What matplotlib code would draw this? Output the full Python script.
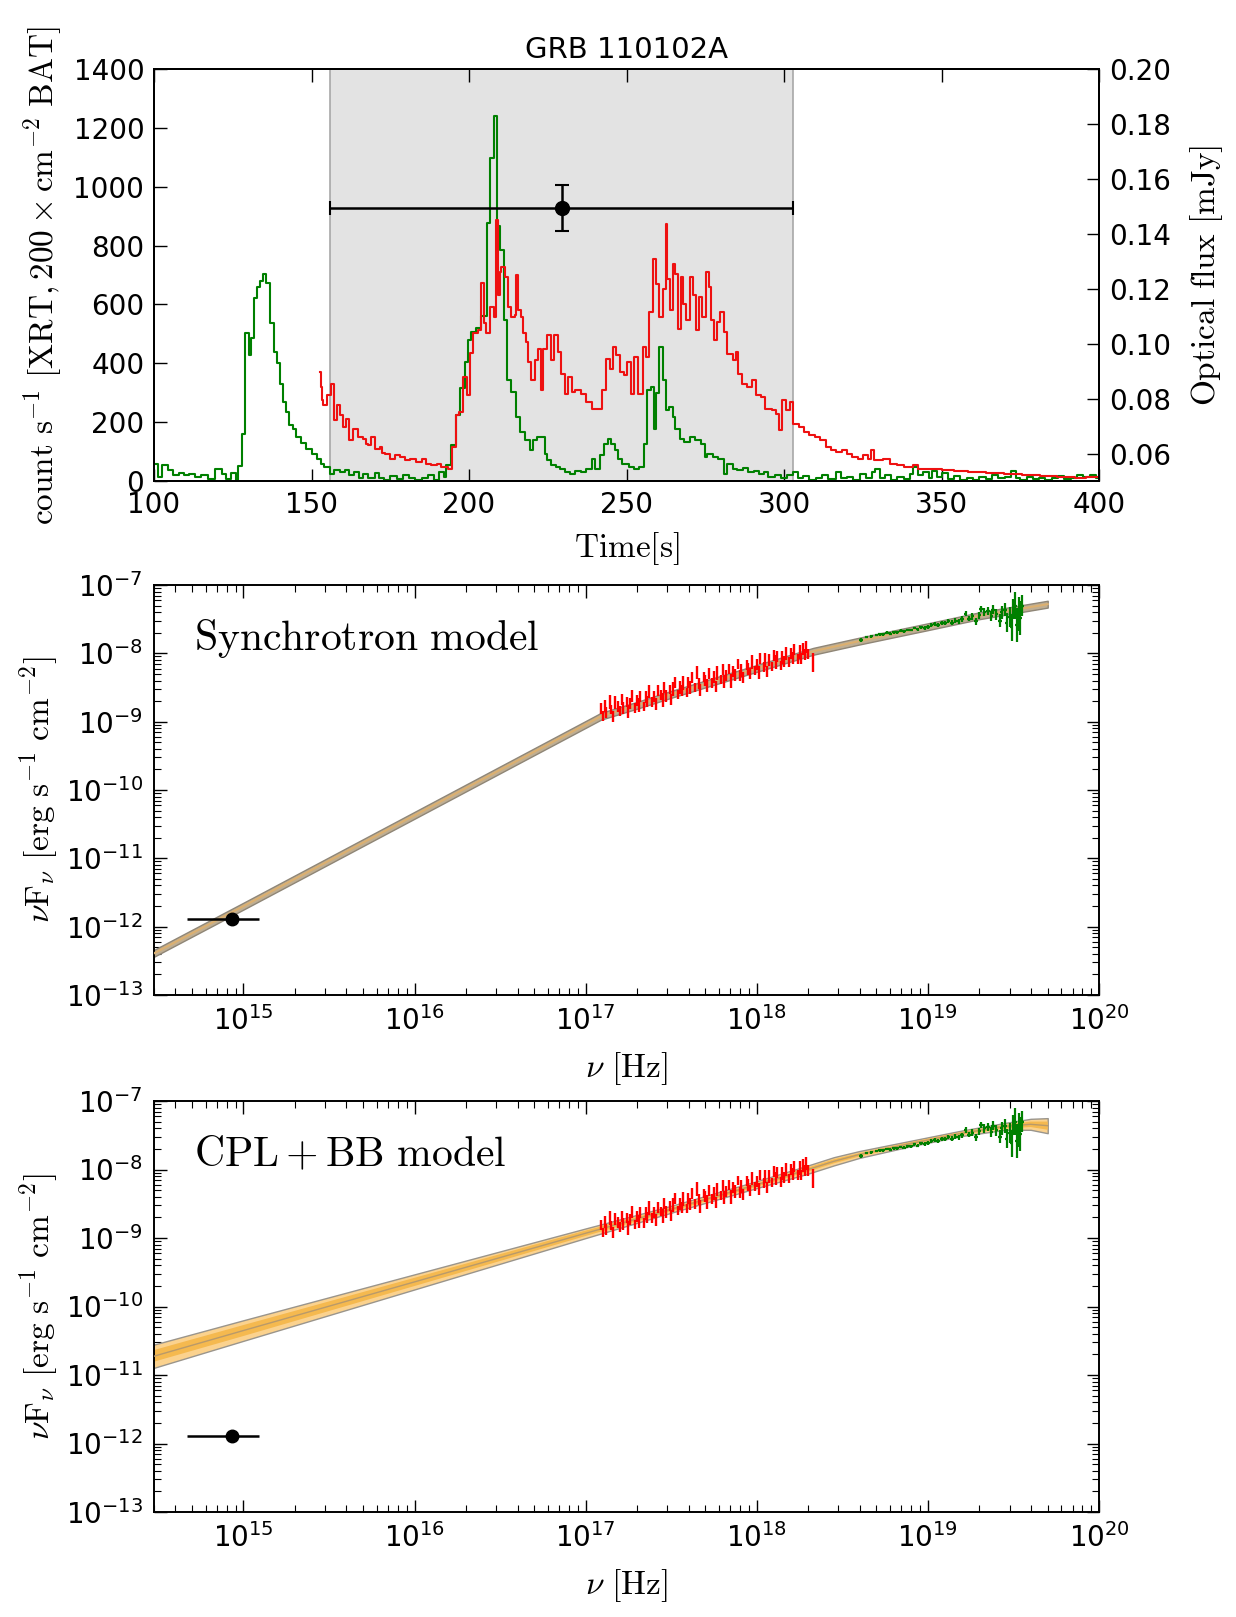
import numpy as np
import matplotlib
matplotlib.use('Agg')
import matplotlib.pyplot as plt
from matplotlib.ticker import LogLocator, NullFormatter

plt.rcParams['mathtext.fontset'] = 'cm'
plt.rcParams['font.family'] = 'DejaVu Sans'
plt.rcParams['axes.linewidth'] = 1.4
plt.rcParams['axes.unicode_minus'] = False

# ---------------- light curve (top panel) ----------------
# BAT (green), left bin edge [s] and rate
bat_t = [100, 101.4, 102.4, 104.5, 106, 108, 109.5, 111, 113, 115, 117, 119.3, 121.5, 123, 124.5, 126,
         126.7, 127.9, 129, 130, 130.8, 131.8, 132.8, 133.8, 134.7, 135.7, 136.8, 138, 138.9, 140,
         141, 142, 143, 144.2, 145.2, 146.8, 148.4, 150.2, 151.6, 153, 154, 155.8, 157, 159, 160.5,
         162, 163.5, 165, 166.5, 168, 170, 171.5, 173, 175, 177, 179, 181, 183, 185, 187, 189, 190.5,
         192, 192.8, 194.4, 196, 197, 198.6, 199.7, 200.7, 202.3, 203.9, 205.7, 206.8, 207.8, 208.9,
         209.9, 211, 212, 213.4, 215, 216.3, 217.7, 219.2, 220.3, 221.5, 223, 224, 224.7, 226, 227.6,
         229, 230.4, 232, 233.8, 235.5, 237, 238.9, 240, 241.7, 243, 244, 245, 246.3, 247.4, 248.5,
         250.8, 252.5, 254, 255.7, 256.5, 257.8, 258.7, 259.5, 260.4, 261.6, 262.4, 263.5, 264.6,
         265.5, 266.9, 268.4, 270, 271.8, 273.5, 274.8, 275.7, 277.4, 279.1, 280.8, 282, 283.7, 285,
         287, 288.5, 290.5, 292, 293.5, 295, 297, 299, 301, 303, 304.5, 306, 308, 310, 312, 314,
         316.5, 318, 320, 322, 324, 326, 328, 329, 330.5, 332, 334, 336, 338, 340, 341, 342.5, 344,
         346, 347, 348.5, 350, 352, 354, 356, 358, 360, 362, 364, 366, 368, 370, 372, 373.5, 375,
         377, 379, 381, 383, 385, 387, 389, 391, 393, 395, 397, 399]
bat_rate = [59, 14, 53, 36, 20, 28, 20, 25, 15, 20, 8, 42, 25, 8, 28, 5,
            50, 161, 502, 428, 485, 621, 661, 680, 705, 673, 536, 440, 400, 330,
            269, 235, 190, 178, 150, 130, 110, 93, 76, 59, 48, 25, 36, 30, 36,
            20, 30, 12, 25, 10, 28, 12, 5, 18, 8, 22, 10, 3, 12, 20, 5, 30,
            15, 53, 122, 224, 315, 405, 480, 508, 520, 560, 877, 1099, 1241, 866,
            786, 548, 343, 303, 218, 167, 139, 105, 139, 150, 150, 93, 70, 55, 48,
            40, 30, 25, 35, 30, 40, 76, 40, 87, 127, 144, 127, 104, 76, 59,
            48, 40, 48, 127, 308, 320, 178, 300, 456, 342, 240, 252, 218,
            178, 144, 133, 150, 139, 127, 82, 93, 82, 76, 25, 59, 42, 36,
            45, 30, 35, 25, 30, 15, 22, 12, 20, 30, 10, 18, 5, 12, 20, 8,
            30, 10, 15, 5, 25, 12, 30, 40, 10, 20, 5, 15, 8, 25, 48, 20, 30,
            10, 35, 15, 28, 8, 18, 5, 12, 3, 15, 8, 20, 10, 15, 34, 10, 5,
            15, 8, 12, 4, 10, 18, 6, 12, 20, 15, 22, 12]

# XRT (red, x200), left bin edge [s] and rate
xrt_t = [152.6, 152.9, 153.2, 153.7, 154.8, 156.1, 157, 158, 159, 160, 161, 162, 163.2, 164.8, 166.4,
         167.2, 168, 169, 170, 171.7, 172.5, 173.3, 174.8, 176.4, 178, 179.6, 181.2, 183.3, 185,
         186.5, 188, 189.8, 191.2, 193.3, 194.7, 195.8, 196.8, 198.1, 199.2, 200.2, 201.3, 202.9,
         203.9, 204.6, 205.5, 206.6, 207.8, 208.5, 209.2, 209.7, 210.3, 211.3, 212.4, 213.4, 214.5,
         215, 215.5, 216.6, 217.1, 218.2, 218.7, 219.8, 220.8, 221.9, 222.9, 223.5, 224.7, 225.9,
         227, 228.1, 229.3, 230.4, 231.5, 232.7, 233.8, 235.5, 237.2, 238.9, 240.6, 242.3, 243.4,
         244.6, 245.7, 246.8, 248, 249.1, 250.2, 251.4, 252.5, 253.6, 255.1, 256.2, 257, 258.5,
         259.3, 260.4, 261.6, 262.4, 263, 263.8, 264.6, 265.5, 266.4, 267.2, 268, 268.9, 270.1,
         271.2, 272.1, 273.1, 274, 275.2, 276.3, 276.9, 277.8, 278.6, 279.7, 280.8, 282, 283.7,
         284.6, 285.4, 286.5, 288.2, 289.9, 291, 292.7, 293.9, 296.1, 297.3, 298.4, 299.5, 300.7,
         301.8, 302.9, 304.6, 306.3, 308, 309.8, 311.5, 313.2, 314.9, 316.6, 318.3, 320, 321.7,
         323.4, 325, 326.8, 327.7, 328.5, 331.3, 333.6, 335.8, 338.1, 341, 342.6, 347.2, 350, 354,
         358.5, 364.2, 369.8, 375.5, 381.2, 386.8, 392.5, 396]
xrt_rate = [370, 320, 275, 258, 292, 331, 207, 258, 224, 184, 212, 138, 178, 150, 144,
            125, 121, 150, 110, 116, 95, 93, 76, 87, 82, 70, 76, 65, 76,
            59, 53, 59, 48, 42, 116, 224, 235, 354, 292, 434, 502, 513,
            672, 536, 502, 593, 558, 888, 632, 712, 729, 695, 593, 558, 564,
            700, 581, 558, 502, 473, 405, 343, 411, 450, 309, 450, 495, 411,
            495, 439, 365, 297, 354, 303, 308, 297, 269, 246, 246, 308, 416,
            382, 456, 428, 371, 359, 405, 297, 422, 297, 456, 422, 575, 756,
            671, 558, 654, 875, 688, 580, 739, 705, 518, 694, 603, 546, 694,
            631, 512, 626, 558, 711, 660, 546, 478, 541, 575, 507, 433, 410,
            439, 365, 331, 320, 342, 291, 286, 246, 240, 229, 172, 274, 240,
            269, 195, 184, 167, 155, 150, 138, 116, 104, 99, 104, 93, 82,
            76, 87, 76, 104, 70, 76, 59, 53, 48, 53, 42, 42, 39, 34,
            31, 27, 23, 19, 16, 14, 10, 14]

# optical point (time interval and flux)
opt_t = 229.5
opt_t_lo, opt_t_hi = 155.8, 302.9
opt_flux = 0.1495
opt_flux_err = 0.0083

# ---------------- SED (middle & bottom panels), log10 values ----------------
xrt_lognu = [17.09, 17.10, 17.11, 17.12, 17.14, 17.15, 17.16, 17.17, 17.19, 17.20,
             17.21, 17.22, 17.24, 17.25, 17.26, 17.27, 17.29, 17.30, 17.31, 17.32,
             17.34, 17.35, 17.36, 17.37, 17.39, 17.40, 17.41, 17.42, 17.44, 17.45,
             17.46, 17.47, 17.49, 17.50, 17.51, 17.52, 17.54, 17.55, 17.56, 17.57,
             17.59, 17.60, 17.61, 17.62, 17.64, 17.65, 17.66, 17.67, 17.69, 17.70,
             17.71, 17.72, 17.74, 17.75, 17.76, 17.77, 17.79, 17.80, 17.81, 17.82,
             17.84, 17.85, 17.86, 17.87, 17.89, 17.90, 17.91, 17.92, 17.94, 17.95,
             17.96, 17.97, 17.99, 18.00, 18.01, 18.02, 18.04, 18.05, 18.06, 18.07,
             18.09, 18.10, 18.11, 18.12, 18.14, 18.15, 18.16, 18.17, 18.19, 18.20,
             18.21, 18.22, 18.24, 18.25, 18.26, 18.27, 18.28, 18.29, 18.30, 18.33]
xrt_logf = [-8.81, -8.92, -8.77, -8.87, -8.71, -8.82, -8.92, -8.72, -8.78, -8.84,
            -8.68, -8.80, -8.71, -8.85, -8.73, -8.62, -8.80, -8.69, -8.76, -8.63,
            -8.78, -8.64, -8.70, -8.56, -8.71, -8.63, -8.74, -8.55, -8.61, -8.68,
            -8.50, -8.62, -8.53, -8.67, -8.52, -8.42, -8.60, -8.50, -8.55, -8.43,
            -8.57, -8.43, -8.50, -8.35, -8.50, -8.28, -8.44, -8.54, -8.35, -8.40,
            -8.47, -8.30, -8.43, -8.35, -8.48, -8.29, -8.38, -8.24, -8.41, -8.32,
            -8.23, -8.40, -8.26, -8.32, -8.16, -8.33, -8.25, -8.36, -8.17, -8.23,
            -8.30, -8.13, -8.25, -8.17, -8.28, -8.08, -8.20, -8.10, -8.26, -8.10,
            -8.19, -8.03, -8.13, -8.05, -8.18, -8.06, -8.12, -8.00, -8.13, -8.00,
            -8.07, -7.95, -8.08, -7.98, -8.08, -7.94, -8.02, -7.91, -8.01, -8.13]
xrt_logerr = [0.08, 0.07, 0.09, 0.08, 0.10, 0.07, 0.08, 0.09, 0.08, 0.07,
              0.08, 0.09, 0.07, 0.10, 0.08, 0.09, 0.07, 0.08, 0.10, 0.08,
              0.07, 0.09, 0.08, 0.10, 0.07, 0.08, 0.09, 0.08, 0.07, 0.10,
              0.08, 0.09, 0.07, 0.08, 0.10, 0.08, 0.07, 0.09, 0.08, 0.10,
              0.07, 0.08, 0.09, 0.08, 0.07, 0.10, 0.08, 0.09, 0.07, 0.08,
              0.10, 0.08, 0.07, 0.09, 0.08, 0.10, 0.07, 0.08, 0.09, 0.08,
              0.07, 0.10, 0.08, 0.09, 0.07, 0.08, 0.10, 0.08, 0.07, 0.09,
              0.08, 0.10, 0.07, 0.08, 0.09, 0.08, 0.07, 0.10, 0.08, 0.09,
              0.07, 0.08, 0.10, 0.08, 0.07, 0.09, 0.08, 0.10, 0.07, 0.08,
              0.09, 0.08, 0.07, 0.10, 0.08, 0.09, 0.08, 0.09, 0.08, 0.14]

bat_lognu = [18.61, 18.64, 18.67, 18.70, 18.72, 18.74, 18.76, 18.78, 18.80, 18.82,
             18.84, 18.86, 18.88, 18.90, 18.92, 18.94, 18.96, 18.98, 19.00, 19.02,
             19.04, 19.06, 19.08, 19.10, 19.12, 19.14, 19.16, 19.18, 19.20, 19.22,
             19.24, 19.26, 19.28, 19.30, 19.31, 19.33, 19.35, 19.37, 19.38, 19.40,
             19.42, 19.43, 19.45, 19.46, 19.48, 19.49, 19.50, 19.51, 19.52, 19.53,
             19.54, 19.55]
bat_logf = [-7.80, -7.76, -7.75, -7.73, -7.72, -7.72, -7.70, -7.71, -7.69, -7.69,
            -7.67, -7.68, -7.66, -7.66, -7.63, -7.65, -7.62, -7.63, -7.61, -7.58,
            -7.57, -7.58, -7.55, -7.56, -7.53, -7.55, -7.52, -7.53, -7.50, -7.42,
            -7.49, -7.46, -7.53, -7.44, -7.35, -7.40, -7.38, -7.45, -7.36, -7.43,
            -7.52, -7.40, -7.36, -7.55, -7.47, -7.62, -7.35, -7.30, -7.58, -7.42,
            -7.48, -7.30]
bat_logerr = [0.03, 0.02, 0.02, 0.02, 0.02, 0.02, 0.02, 0.02, 0.02, 0.02,
              0.02, 0.02, 0.02, 0.02, 0.02, 0.02, 0.02, 0.03, 0.03, 0.03,
              0.03, 0.03, 0.03, 0.03, 0.03, 0.04, 0.04, 0.04, 0.04, 0.04,
              0.04, 0.05, 0.05, 0.05, 0.05, 0.06, 0.06, 0.07, 0.07, 0.08,
              0.10, 0.09, 0.10, 0.14, 0.15, 0.20, 0.15, 0.20, 0.25, 0.25,
              0.25, 0.15]

# optical SED point
uv_nu, uv_nu_lo, uv_nu_hi = 8.6e14, 4.7e14, 1.24e15
uv_flux = 1.29e-12

# synchrotron model band
syn_lognu = [14.47, 15.0, 16.0, 17.0, 17.09, 17.3, 17.5, 17.75, 18.0, 18.33, 18.6, 19.0, 19.3, 19.7]
syn_mid = [-12.40, -11.70, -10.37, -9.04, -8.92, -8.76, -8.60, -8.41, -8.22, -7.97, -7.82, -7.61, -7.45, -7.28]
syn_lo = [-12.45, -11.75, -10.42, -9.09, -8.97, -8.81, -8.65, -8.46, -8.27, -8.02, -7.87, -7.66, -7.50, -7.33]
syn_hi = [-12.35, -11.65, -10.32, -8.99, -8.87, -8.71, -8.55, -8.36, -8.17, -7.92, -7.77, -7.56, -7.40, -7.23]

# CPL+BB model band
cpl_lognu = [14.47, 15.0, 16.0, 17.0, 17.5, 18.0, 18.3, 18.45, 18.6, 18.9, 19.2, 19.45, 19.6, 19.7]
cpl_mid = [-10.73, -10.35, -9.64, -8.93, -8.58, -8.22, -8.00, -7.88, -7.78, -7.62, -7.47, -7.37, -7.34, -7.36]
cpl_lo = [-10.90, -10.50, -9.75, -9.00, -8.63, -8.27, -8.06, -7.94, -7.83, -7.66, -7.51, -7.42, -7.42, -7.47]
cpl_hi = [-10.56, -10.20, -9.53, -8.86, -8.53, -8.17, -7.94, -7.82, -7.73, -7.58, -7.43, -7.32, -7.26, -7.25]
cpl_in_lo = [-10.81, -10.43, -9.70, -8.97, -8.61, -8.25, -8.03, -7.91, -7.81, -7.64, -7.49, -7.40, -7.38, -7.42]
cpl_in_hi = [-10.64, -10.27, -9.58, -8.89, -8.56, -8.20, -7.97, -7.85, -7.76, -7.60, -7.45, -7.35, -7.30, -7.30]


def ex(v):
    return 10 ** np.array(v, dtype=float)


fig = plt.figure(figsize=(12.36, 16.17), dpi=100)
TICK = 20
LAB = 24

# ---------- top panel ----------
ax = fig.add_axes([0.1246, 0.7025, 0.7646, 0.2548])
ax.axvspan(opt_t_lo, opt_t_hi, facecolor='#e3e3e3', edgecolor='#a8a8a8', lw=1.2, zorder=0)
ax.step(bat_t + [400], bat_rate + [bat_rate[-1]], where='post', color='g', lw=1.5)
ax.step(xrt_t + [400], xrt_rate + [xrt_rate[-1]], where='post', color='#ee1111', lw=1.5)
ax.set_xlim(100, 400)
ax.set_ylim(0, 1400)
ax.set_xticks(np.arange(100, 401, 50))
ax.set_yticks(np.arange(0, 1401, 200))
ax.tick_params(direction='in', length=9, width=1, labelsize=TICK, top=True, right=False, pad=7)
ax.set_title('GRB 110102A', fontsize=21, pad=8)
ax.set_xlabel(r'$\mathrm{Time[s]}$', fontsize=LAB)
ax.xaxis.set_label_coords(0.5, -0.12)
ax.set_ylabel(r'$\mathrm{count\ s^{-1}\ [XRT,200\times cm^{-2}\ BAT]}$', fontsize=LAB)
ax.yaxis.set_label_coords(-0.095, 0.5)

ax2 = ax.twinx()
ax2.errorbar([opt_t], [opt_flux], xerr=[[opt_t - opt_t_lo], [opt_t_hi - opt_t]],
             yerr=opt_flux_err, fmt='o', color='k', ms=10, lw=1.8, capsize=5, capthick=1.5)
ax2.set_ylim(0.05, 0.20)
ax2.set_yticks(np.arange(0.06, 0.201, 0.02))
ax2.set_yticklabels(['%.2f' % v for v in np.arange(0.06, 0.201, 0.02)])
ax2.tick_params(direction='in', length=9, width=1, labelsize=TICK, pad=7)
ax2.set_ylabel(r'$\mathrm{Optical\ flux\ [mJy]}$', fontsize=LAB)
ax2.yaxis.set_label_coords(1.094, 0.5)


def sed_panel(rect, model):
    a = fig.add_axes(rect)
    a.set_xscale('log')
    a.set_yscale('log')
    if model == 'syn':
        nu = ex(syn_lognu)
        a.fill_between(nu, ex(syn_lo), ex(syn_hi), facecolor='#bfae92', edgecolor='#8f8677', lw=1.0, zorder=2)
        a.plot(nu, ex(syn_mid), color='#dcb070', lw=1.5, zorder=3)
        label = r'$\mathrm{Synchrotron\ model}$'
    else:
        nu = ex(cpl_lognu)
        a.fill_between(nu, ex(cpl_lo), ex(cpl_hi), facecolor='#fbd28e', edgecolor='#9a958c', lw=1.0, zorder=2)
        a.fill_between(nu, ex(cpl_in_lo), ex(cpl_in_hi), facecolor='#f5b94f', edgecolor='none', zorder=2)
        a.plot(nu, ex(cpl_mid), color='#b99a6a', lw=1.0, zorder=3)
        label = r'$\mathrm{CPL+BB\ model}$'

    lnu = np.array(xrt_lognu)
    lf = np.array(xrt_logf)
    le = np.array(xrt_logerr)
    a.errorbar(10 ** lnu, 10 ** lf,
               yerr=[10 ** lf - 10 ** (lf - le), 10 ** (lf + le) - 10 ** lf],
               xerr=[10 ** lnu - 10 ** (lnu - 0.005), 10 ** (lnu + 0.005) - 10 ** lnu],
               fmt='none', ecolor='#ff0000', elinewidth=1.7, zorder=4)
    bnu = np.array(bat_lognu)
    bf = np.array(bat_logf)
    be = np.array(bat_logerr)
    a.errorbar(10 ** bnu, 10 ** bf,
               yerr=[10 ** bf - 10 ** (bf - be), 10 ** (bf + be) - 10 ** bf],
               xerr=[10 ** bnu - 10 ** (bnu - 0.01), 10 ** (bnu + 0.01) - 10 ** bnu],
               fmt='none', ecolor='g', elinewidth=1.6, zorder=4)
    a.errorbar([uv_nu], [uv_flux], xerr=[[uv_nu - uv_nu_lo], [uv_nu_hi - uv_nu]],
               fmt='o', color='k', ms=9, lw=1.8, zorder=5)

    a.set_xlim(3e14, 1e20)
    a.set_ylim(1e-13, 1e-7)
    a.xaxis.set_major_locator(LogLocator(base=10, numticks=20))
    a.yaxis.set_major_locator(LogLocator(base=10, numticks=20))
    a.xaxis.set_minor_locator(LogLocator(base=10, subs=np.arange(2, 10), numticks=100))
    a.yaxis.set_minor_locator(LogLocator(base=10, subs=np.arange(2, 10), numticks=100))
    a.xaxis.set_minor_formatter(NullFormatter())
    a.yaxis.set_minor_formatter(NullFormatter())
    a.tick_params(which='both', direction='in', top=True, right=True, labelsize=TICK, pad=8)
    a.tick_params(which='major', length=9, width=1)
    a.tick_params(which='minor', length=5, width=0.8)
    a.text(0.042, 0.87, label, transform=a.transAxes, fontsize=30, va='center', ha='left')
    a.set_xlabel(r'$\nu\ \mathrm{[Hz]}$', fontsize=LAB)
    a.xaxis.set_label_coords(0.5, -0.135)
    a.set_ylabel(r'$\nu\mathrm{F}_\nu\ \mathrm{[erg\ s^{-1}\ cm^{-2}]}$', fontsize=LAB)
    a.yaxis.set_label_coords(-0.10, 0.5)
    return a


sed_panel([0.1246, 0.3847, 0.7646, 0.2535], 'syn')
sed_panel([0.1246, 0.0649, 0.7646, 0.2542], 'cpl')

fig.savefig('out.png', dpi=100)
